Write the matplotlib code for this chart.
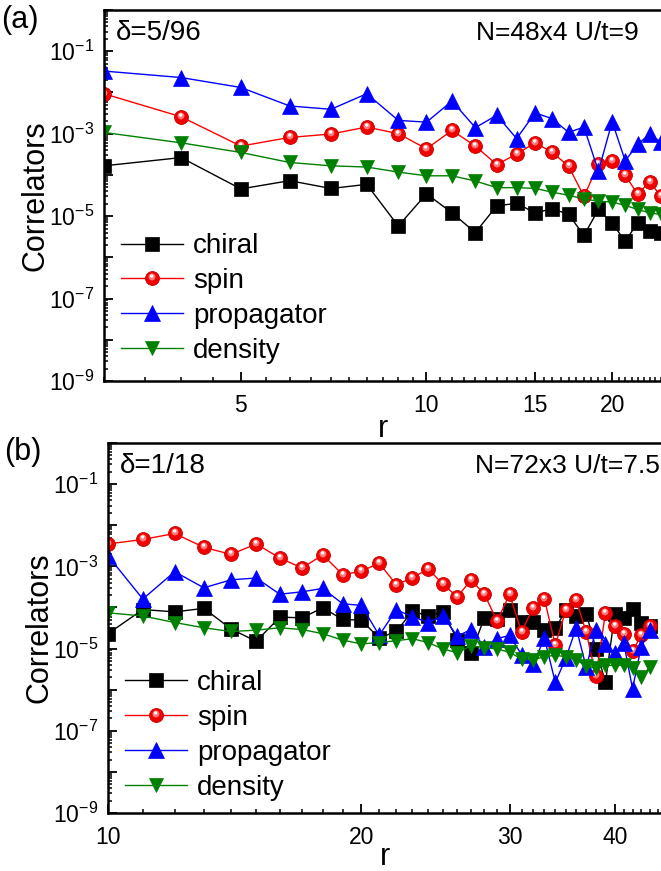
import numpy as np
import matplotlib
matplotlib.use("Agg")
import matplotlib.pyplot as plt
from matplotlib.path import Path
from matplotlib.ticker import FixedLocator, FuncFormatter, NullFormatter, LogLocator
from matplotlib.legend_handler import HandlerTuple

plt.rcParams['font.family'] = ['Liberation Sans', 'DejaVu Sans']
plt.rcParams['mathtext.fontset'] = 'custom'
plt.rcParams['mathtext.rm'] = 'Liberation Sans'
plt.rcParams['mathtext.it'] = 'Liberation Sans:italic'
plt.rcParams['mathtext.default'] = 'regular'

# ---------------- panel (a): delta = 5/96, N = 48x4, U/t = 9 ----------------
r_a = list(range(3, 25))
chiral_a = [1.66e-4, 2.63e-4, 4.57e-5, 7.24e-5, 4.68e-5, 5.89e-5, 5.75e-6, 3.47e-5,
            1.20e-5, 3.98e-6, 1.78e-5, 2.04e-5, 1.20e-5, 1.51e-5, 1.10e-5, 3.39e-6,
            1.45e-5, 6.76e-6, 2.45e-6, 6.92e-6, 4.37e-6, 3.98e-6]
spin_a = [9.3e-3, 2.57e-3, 5.0e-4, 8.1e-4, 9.8e-4, 1.45e-3, 1.0e-3, 4.3e-4,
          1.2e-3, 5.0e-4, 1.78e-4, 3.2e-4, 6.0e-4, 3.5e-4, 1.62e-4, 3.0e-5,
          1.82e-4, 2.2e-4, 9.8e-5, 3.4e-5, 6.8e-5, 3.0e-5]
prop_a = [3.3e-2, 2.3e-2, 1.32e-2, 4.7e-3, 3.9e-3, 9.3e-3, 2.1e-3, 1.9e-3,
          6.2e-3, 1.4e-3, 2.8e-3, 7.6e-4, 3.2e-3, 2.3e-3, 1.07e-3, 1.45e-3,
          1.23e-4, 1.95e-3, 2.2e-4, 5.5e-4, 9.8e-4, 6.2e-4]
dens_a = [1.07e-3, 6.0e-4, 3.5e-4, 2.0e-4, 1.66e-4, 1.55e-4, 1.17e-4, 9.5e-5,
          9.5e-5, 7.1e-5, 4.9e-5, 4.9e-5, 4.7e-5, 3.8e-5, 3.2e-5, 2.6e-5,
          2.3e-5, 2.2e-5, 1.82e-5, 1.45e-5, 1.2e-5, 1.1e-5]

# ---------------- panel (b): delta = 1/18, N = 72x3, U/t = 7.5 ----------------
r_b = list(range(10, 45))
chiral_b = [2.3e-5, 8.9e-5, 7.8e-5, 9.5e-5, 3.0e-5, 1.5e-5, 5.8e-5, 5.6e-5, 9.8e-5,
            5.1e-5, 4.9e-5, 1.8e-5, 2.6e-5, 8.1e-5, 6.2e-5, 7.8e-5, 1.66e-5, 7.6e-6,
            5.6e-5, 5.1e-5, 8.5e-5, 4.4e-5, 4.4e-5, 2.8e-5, 3.1e-5, 8.5e-5, 6.3e-5,
            7.1e-5, 1.0e-5, 1.5e-6, 6.8e-5, 5.4e-5, 9.3e-5, 4.3e-5, 3.5e-5]
spin_b = [3.5e-3, 4.5e-3, 6.3e-3, 2.9e-3, 1.95e-3, 3.5e-3, 1.6e-3, 9.1e-4, 1.9e-3,
          6.3e-4, 7.6e-4, 1.2e-3, 3.6e-4, 5.2e-4, 8.7e-4, 3.7e-4, 1.8e-4, 4.7e-4,
          2.1e-4, 4.7e-5, 2.1e-4, 2.5e-5, 9.8e-5, 1.6e-4, 1.2e-5, 8.9e-5, 1.5e-4,
          2.5e-5, 2.1e-6, 7.4e-5, 3.5e-5, 2.3e-5, 8.5e-6, 2.1e-5, 3.5e-5]
prop_b = [1.8e-3, 1.6e-4, 7.4e-4, 3.0e-4, 4.7e-4, 5.2e-4, 2.1e-4, 2.4e-4, 2.9e-4,
          1.23e-4, 1.12e-4, 2.1e-5, 8.7e-5, 6.0e-5, 4.3e-5, 6.2e-5, 2.0e-5, 2.9e-5,
          1.1e-5, 1.74e-5, 2.1e-5, 7.1e-6, 4.1e-6, 1.8e-5, 1.5e-6, 5.9e-6, 3.2e-5,
          3.5e-6, 2.9e-5, 1.26e-5, 7.6e-6, 1.38e-5, 1.05e-6, 1.1e-5, 2.8e-5]
dens_b = [7.4e-5, 6.2e-5, 4.3e-5, 3.2e-5, 2.6e-5, 2.8e-5, 3.2e-5, 2.9e-5, 2.3e-5,
          1.6e-5, 1.3e-5, 1.4e-5, 1.55e-5, 1.74e-5, 1.4e-5, 9.8e-6, 7.9e-6, 1.17e-5,
          1.05e-5, 9.8e-6, 8.1e-6, 5.6e-6, 5.4e-6, 6.3e-6, 6.9e-6, 6.3e-6, 5.4e-6,
          3.7e-6, 3.4e-6, 3.9e-6, 3.9e-6, 3.9e-6, 3.4e-6, 2.0e-6, 3.5e-6]

labels = ['chiral', 'spin', 'propagator', 'density']

xticks_a = [5, 10, 15, 20]
xticks_b = [10, 20, 30, 40]


def offset_disc(cx, cy, rad):
    """Disc marker placed off-centre inside the unit marker box."""
    frame = Path([(-1.0, -1.0), (1.0, 1.0)], [Path.MOVETO, Path.MOVETO])
    disc = Path.circle(center=(cx, cy), radius=rad)
    return Path.make_compound_path(frame, disc)


glow = offset_disc(-0.08, 0.22, 0.50)
spot = offset_disc(-0.12, 0.36, 0.24)


def draw_panel(ax, r, series, xlim, xticks, minor_step, tag_left, tag_right,
               xlabelpad, leg_y):
    chiral, spin, prop, dens = series
    ms_sq, ms_c, ms_t = 9.4, 10.0, 11.0
    h_ch, = ax.plot(r, chiral, '-s', color='black', lw=1.0, ms=ms_sq,
                    mfc='black', mec='black', mew=0.5)
    h_sp, = ax.plot(r, spin, '-o', color='#ff0000', lw=1.0, ms=ms_c,
                    mfc='#f20000', mec='#c80000', mew=0.6)
    h_g, = ax.plot(r, spin, ls='none', marker=glow, ms=ms_c,
                   mfc='#ff7a7a', mec='none')
    h_s, = ax.plot(r, spin, ls='none', marker=spot, ms=ms_c,
                   mfc='white', mec='none')
    h_pr, = ax.plot(r, prop, '-^', color='#0000ff', lw=1.0, ms=ms_t,
                    mfc='#0000ff', mec='#0000ff', mew=0.5)
    h_de, = ax.plot(r, dens, '-v', color='#008000', lw=1.0, ms=ms_t * 0.95,
                    mfc='#008000', mec='#008000', mew=0.5)

    ax.set_xscale('log')
    ax.set_yscale('log')
    ax.set_xlim(*xlim)
    ax.set_ylim(1e-9, 1e0)

    ax.xaxis.set_major_locator(FixedLocator(xticks))
    ax.xaxis.set_major_formatter(FuncFormatter(lambda v, p: '%d' % round(v)))
    minors = [m for m in np.arange(xlim[0], xlim[1] + 1e-9, minor_step)
              if all(abs(m - t) > 1e-6 for t in xticks)]
    ax.xaxis.set_minor_locator(FixedLocator(minors))
    ax.xaxis.set_minor_formatter(NullFormatter())

    ax.yaxis.set_major_locator(FixedLocator(10.0 ** np.arange(-9, 1)))

    def ylab(v, p):
        e = int(round(np.log10(v)))
        return r'$10^{%d}$' % e if e % 2 else ''
    ax.yaxis.set_major_formatter(FuncFormatter(ylab))
    ax.yaxis.set_minor_locator(LogLocator(base=10, subs=np.arange(2, 10), numticks=50))
    ax.yaxis.set_minor_formatter(NullFormatter())

    ax.tick_params(which='major', direction='in', length=6.5, width=1.3,
                   labelsize=16.5, pad=7, top=False, right=False)
    ax.tick_params(which='minor', direction='in', length=3.2, width=1.1,
                   top=False, right=False)
    ax.tick_params(axis='x', which='major', pad=9)

    for side in ('left', 'bottom', 'top'):
        ax.spines[side].set_linewidth(1.8)
    ax.spines['right'].set_visible(False)

    ax.set_xlabel('r', fontsize=22, labelpad=xlabelpad)
    ax.set_ylabel('Correlators', fontsize=22, labelpad=-1)

    ax.text(0.021, 0.938, tag_left, transform=ax.transAxes, fontsize=20,
            ha='left', va='center')
    ax.text(tag_right[1], 0.938, tag_right[0], transform=ax.transAxes,
            fontsize=19, ha='right', va='center')

    leg = ax.legend([h_ch, (h_sp, h_g, h_s), h_pr, h_de], labels,
                    handler_map={tuple: HandlerTuple(ndivide=1)},
                    loc='lower left', bbox_to_anchor=(0.03, leg_y),
                    frameon=False, fontsize=20, handlelength=2.25,
                    handletextpad=0.35, labelspacing=0.32,
                    borderpad=0.0, borderaxespad=0.0)
    return leg


fig = plt.figure(figsize=(6.61, 8.71), dpi=100)
W, H = 661.0, 871.0

ax_a = fig.add_axes([104 / W, 1 - 381 / H, 1 - 104 / W, (381 - 10) / H])
draw_panel(ax_a, r_a, (chiral_a, spin_a, prop_a, dens_a), (3.0, 24.0),
           xticks_a, 0.5, r'δ=5/96', ('N=48x4 U/t=9', 0.96), -2, 0.046)

ax_b = fig.add_axes([108 / W, 1 - 813 / H, 1 - 108 / W, (813 - 443) / H])
draw_panel(ax_b, r_b, (chiral_b, spin_b, prop_b, dens_b), (10.0, 45.4),
           xticks_b, 1.0, r'δ=1/18', ('N=72x3 U/t=7.5', 0.998), -5, 0.033)

fig.text(0.002, 1 - 20 / H, '(a)', fontsize=22, ha='left', va='center')
fig.text(0.006, 1 - 452 / H, '(b)', fontsize=22, ha='left', va='center')

fig.savefig('out.png', dpi=100)
